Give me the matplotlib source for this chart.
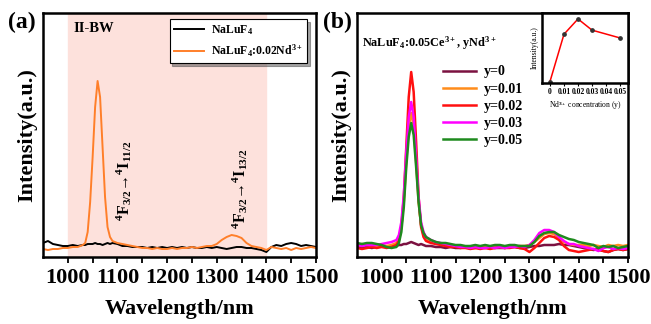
import matplotlib
matplotlib.use("Agg")
import matplotlib.pyplot as plt

plt.rcParams['font.family'] = ['Liberation Serif', 'DejaVu Serif']
plt.rcParams['font.weight'] = 'bold'
plt.rcParams['mathtext.fontset'] = 'custom'
plt.rcParams['mathtext.rm'] = 'Liberation Serif:bold'
plt.rcParams['mathtext.it'] = 'Liberation Serif:bold'
plt.rcParams['mathtext.bf'] = 'Liberation Serif:bold'

# wavelength grid (nm), denser around the 1060 nm peak
wl = [950, 960, 970, 980, 990, 1000, 1010, 1020, 1030,
      1035, 1040, 1045, 1050, 1055, 1060, 1065, 1070, 1075, 1080, 1085,
      1090, 1100, 1110, 1120, 1130, 1140, 1150, 1160, 1170, 1180,
      1190, 1200, 1210, 1220, 1230, 1240, 1250, 1260, 1270, 1280,
      1290, 1300, 1310, 1320, 1330, 1340, 1350, 1360, 1370, 1380,
      1390, 1400, 1410, 1420, 1430, 1440, 1450, 1460, 1470, 1480,
      1490, 1500]

# panel (a)
nalu_a = [14, 16, 13, 12, 11, 11, 12, 11, 12,
          12, 13, 13, 13, 14, 13, 13, 12, 13, 14, 13,
          14, 13, 11, 11, 10, 10, 10, 9, 10, 9,
          10, 9, 10, 9, 10, 9, 10, 9, 9, 10,
          9, 10, 9, 8, 9, 10, 10, 9, 9, 8,
          7, 5, 10, 12, 11, 13, 14, 13, 11, 12,
          11, 10]
nd_a = [8, 7, 8, 8, 9, 9, 10, 10, 12,
        14, 25, 55, 100, 150, 176, 160, 110, 60, 30, 20,
        16, 14, 13, 12, 11, 10, 9, 9, 8, 9,
        8, 8, 9, 8, 9, 9, 10, 9, 10, 11,
        11, 13, 17, 20, 22, 21, 19, 14, 11, 10,
        9, 7, 10, 9, 8, 9, 7, 9, 8, 9,
        10, 9]

# panel (b)
y_labels = ['y=0', 'y=0.01', 'y=0.02', 'y=0.03', 'y=0.05']
y_colors = ['#7b1140', '#ff8c1a', '#ff1010', '#ff00ff', '#1e8a1e']
y00 = [10, 9, 10, 9, 10, 11, 10, 11, 11,
       12, 12, 13, 13, 14, 15, 14, 13, 12, 13, 12,
       11, 11, 10, 10, 9, 10, 9, 9, 10, 9,
       9, 10, 9, 10, 9, 9, 9, 10, 10, 9,
       9, 10, 11, 11, 12, 12, 12, 13, 12, 12,
       11, 10, 9, 8, 7, 8, 6, 5, 7, 8,
       7, 8]
y01 = [12, 13, 12, 12, 11, 12, 11, 12, 14,
       18, 30, 55, 95, 130, 144, 132, 95, 55, 32, 22,
       18, 15, 14, 13, 12, 11, 11, 10, 10, 9,
       10, 9, 10, 9, 10, 10, 9, 10, 10, 11,
       11, 12, 15, 19, 23, 24, 23, 19, 15, 13,
       12, 12, 12, 11, 12, 11, 10, 12, 11, 12,
       11, 12]
y02 = [9, 8, 9, 10, 9, 10, 9, 10, 12,
       16, 30, 60, 110, 160, 185, 165, 115, 60, 30, 20,
       16, 14, 13, 12, 11, 10, 10, 9, 9, 8,
       9, 8, 9, 8, 9, 10, 9, 9, 10, 9,
       8, 5, 9, 14, 19, 21, 20, 17, 11, 7,
       6, 5, 6, 7, 8, 7, 6, 5, 7, 8,
       7, 8]
y03 = [12, 11, 12, 12, 12, 13, 14, 15, 17,
       22, 35, 62, 105, 140, 155, 140, 100, 60, 35, 25,
       20, 17, 15, 14, 13, 12, 11, 10, 10, 9,
       10, 9, 9, 10, 9, 10, 9, 10, 10, 11,
       10, 12, 17, 24, 27, 27, 25, 20, 16, 13,
       13, 11, 10, 9, 8, 6, 9, 10, 8, 9,
       8, 9]
y05 = [14, 13, 14, 14, 13, 12, 10, 9, 10,
       14, 25, 50, 90, 120, 134, 122, 90, 55, 32, 24,
       20, 17, 15, 14, 14, 13, 12, 12, 11, 11,
       12, 11, 12, 11, 12, 12, 11, 12, 12, 11,
       11, 11, 15, 21, 24, 25, 25, 22, 20, 18,
       17, 15, 14, 13, 12, 9, 11, 10, 11, 9,
       10, 11]
series_b = [y00, y01, y02, y03, y05]

# inset
conc = [0, 0.01, 0.02, 0.03, 0.05]
conc_int = [17, 144, 185, 155, 134]
conc_ticks = [0, 0.01, 0.02, 0.03, 0.04, 0.05]

W, H = 651, 324
fig = plt.figure(figsize=(W / 100, H / 100), dpi=100)


def px_axes(l, t, r, b):
    return fig.add_axes([l / W, 1 - b / H, (r - l) / W, (b - t) / H])


def style_main(ax):
    ax.set_xlim(950, 1500)
    ax.set_ylim(0, 244)
    ax.set_xticks([1000, 1100, 1200, 1300, 1400, 1500])
    ax.set_xticks([1050, 1150, 1250, 1350, 1450], minor=True)
    ax.tick_params(axis='x', which='both', direction='out', length=4, width=1.3,
                   labelsize=16, pad=4)
    ax.set_yticks([])
    for s in ax.spines.values():
        s.set_linewidth(1.8)
    ax.set_xlabel('Wavelength/nm', fontsize=16, fontweight='bold', labelpad=8)
    ax.set_ylabel('Intensity(a.u.)', fontsize=16, fontweight='bold', labelpad=4)


# ---- panel (a)
ax1 = px_axes(43, 13, 316, 257)
ax1.axvspan(1000, 1400, color='#fde1dc', zorder=0)
ax1.plot(wl, nalu_a, color='black', lw=1.4, label='NaLuF$_4$')
ax1.plot(wl, nd_a, color='#ff7f2a', lw=1.4, label='NaLuF$_4$:0.02Nd$^{3+}$')
style_main(ax1)
ax1.text(1012, 228, 'II-BW', fontsize=10.5, fontweight='bold', va='center')
ax1.text(1113, 36, r'$^4$F$_{3/2}$→$^4$I$_{11/2}$', rotation=90,
         fontsize=11.5, ha='center', va='bottom')
ax1.text(1347, 28, r'$^4$F$_{3/2}$→$^4$I$_{13/2}$', rotation=90,
         fontsize=11.5, ha='center', va='bottom')
leg = ax1.legend(loc='upper right', bbox_to_anchor=(0.99, 1.0), fontsize=8.5,
                 frameon=True, fancybox=False, shadow=True, handlelength=2.6,
                 borderpad=0.35, labelspacing=0.5, handletextpad=0.6)
leg.get_frame().set_edgecolor('black')
leg.get_frame().set_linewidth(0.8)
fig.text(8 / W, 1 - 22 / H, '(a)', fontsize=17, fontweight='bold', va='center')

# ---- panel (b)
ax2 = px_axes(357, 13, 628, 257)
for vals, lab, col in zip(series_b, y_labels, y_colors):
    ax2.plot(wl, vals, color=col, lw=1.8, label=lab)
style_main(ax2)
ax2.text(0.02, 0.875, 'NaLuF$_4$:0.05Ce$^{3+}$, yNd$^{3+}$', transform=ax2.transAxes,
         fontsize=8.8, va='center')
ax2.legend(loc='upper left', bbox_to_anchor=(0.28, 0.825), frameon=False, fontsize=10,
           handlelength=2.4, labelspacing=0.3, borderpad=0.2, handletextpad=0.6)
fig.text(323 / W, 1 - 22 / H, '(b)', fontsize=17, fontweight='bold', va='center')

# ---- inset
ax3 = px_axes(542, 13, 628, 83)
ax3.plot(conc, conc_int, color='red', lw=1.1, marker='o', ms=2.4,
         mfc='#333333', mec='#333333')
ax3.set_xlim(-0.0057, 0.0557)
ax3.set_ylim(13, 201)
ax3.set_xticks(conc_ticks)
ax3.set_xticklabels(['0', '0.01', '0.02', '0.03', '0.04', '0.05'])
ax3.tick_params(axis='x', direction='out', length=2, width=0.8, labelsize=5.5, pad=1.5)
ax3.set_yticks([])
for s in ax3.spines.values():
    s.set_linewidth(1.8)
ax3.set_xlabel('Nd$^{3+}$ concentration (y)', fontsize=5.5, labelpad=2)
ax3.set_ylabel('Intensity(a.u.)', fontsize=5.5, labelpad=2)

fig.savefig('out.png', dpi=100)
